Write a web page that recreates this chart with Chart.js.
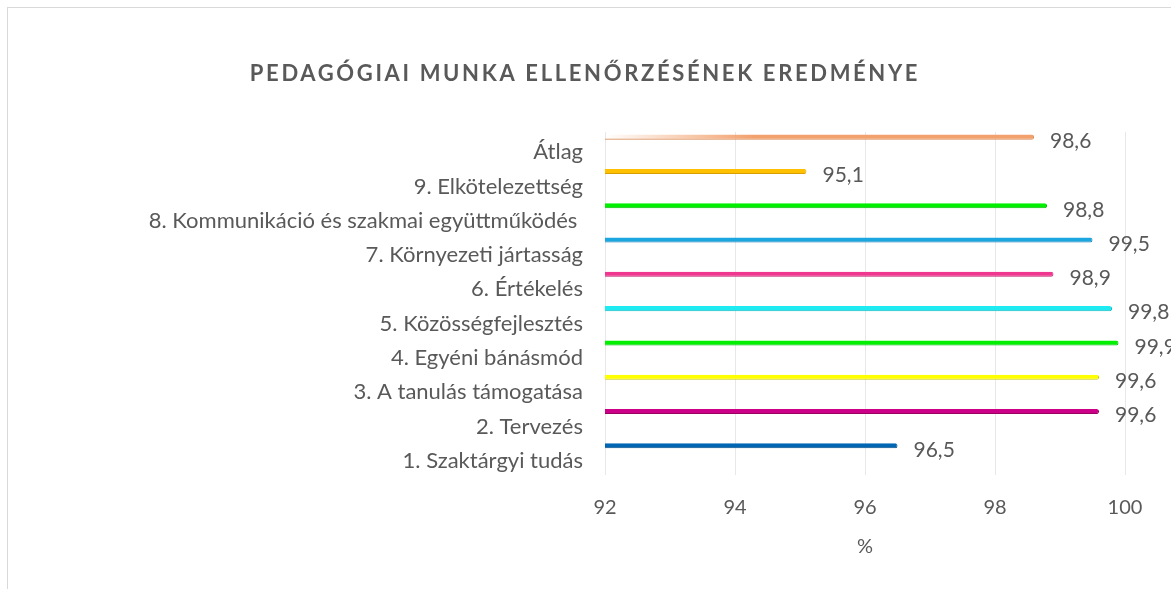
<!DOCTYPE html>
<html><head><meta charset="utf-8">
<script src="https://cdn.jsdelivr.net/npm/chart.js@4"></script>
<style>
html,body{margin:0;padding:0;background:#fff;overflow:hidden;width:1171px;height:589px;}
#frame{position:absolute;left:7px;top:7px;width:1300px;height:700px;border:1px solid #d9d9d9;box-sizing:border-box;}
#wrap{position:absolute;left:0;top:0;width:1171px;height:589px;}
</style></head><body>
<div id="frame"></div>
<div id="wrap"><canvas id="c" width="1171" height="589"></canvas></div>
<script>
const chartTitle = 'PEDAGÓGIAI MUNKA ELLENŐRZÉSÉNEK EREDMÉNYE';
const categories = [
  'Átlag',
  '9. Elkötelezettség',
  '8. Kommunikáció és szakmai együttműködés ',
  '7. Környezeti jártasság',
  '6. Értékelés',
  '5. Közösségfejlesztés',
  '4. Egyéni bánásmód',
  '3. A tanulás támogatása',
  '2. Tervezés',
  '1. Szaktárgyi tudás'
];
const values = [98.6, 95.1, 98.8, 99.5, 98.9, 99.8, 99.9, 99.6, 99.6, 96.5];
const barColors = ['#F2A06C', '#FFC000', '#00EE00', '#1CA6E0', '#F0378F', '#1EEAF2', '#00F000', '#FFFF00', '#CC0088', '#0066B3'];
const edgeColors = ['#D98A55', '#D9A000', '#00B800', '#1480B0', '#C02070', '#10B8C0', '#00B800', '#C8C800', '#99005F', '#004C88'];
const xMin = 92, xMax = 100, xStep = 2;
const axisTitle = '%';

const FONT = 'Lato';
const TXT = '#595959';
const fmt = v => v.toFixed(1).replace('.', ',');

const titlePlugin = {
  id: 'customTitle',
  afterDraw(chart) {
    const ctx = chart.ctx;
    ctx.save();
    ctx.font = 'bold 22px ' + FONT;
    try { ctx.letterSpacing = '2.65px'; } catch (e) {}
    ctx.fillStyle = TXT;
    ctx.textAlign = 'center';
    ctx.textBaseline = 'middle';
    ctx.fillText(chartTitle, 585, 74);
    ctx.restore();
  }
};

const labelPlugin = {
  id: 'valueLabels',
  afterDatasetsDraw(chart) {
    const ctx = chart.ctx;
    const meta = chart.getDatasetMeta(0);
    ctx.save();
    ctx.font = '21px ' + FONT;
    ctx.fillStyle = TXT;
    ctx.textAlign = 'left';
    ctx.textBaseline = 'middle';
    meta.data.forEach((el, i) => {
      ctx.fillText(fmt(values[i]), el.x + 16, el.y + 4);
    });
    ctx.restore();
  }
};

new Chart(document.getElementById('c'), {
  type: 'bar',
  data: {
    labels: categories,
    datasets: [
      {
        label: 'Eredmény',
        data: values,
        backgroundColor: (c) => {
          const i = c.dataIndex;
          if (i === 0 && c.chart.chartArea) {
            const a = c.chart.chartArea;
            const g = c.chart.ctx.createLinearGradient(a.left, 0, a.left + 150, 0);
            g.addColorStop(0, 'rgba(242,160,108,0)');
            g.addColorStop(1, barColors[0]);
            return g;
          }
          return barColors[i];
        },
        borderColor: (c) => edgeColors[c.dataIndex],
        borderWidth: {top: 0, left: 0, right: 1, bottom: 1},
        borderRadius: 2,
        borderSkipped: 'start',
        categoryPercentage: 1.4,
        barPercentage: 0.21
      },
      {
        label: '',
        data: [],
        categoryPercentage: 1.4,
        barPercentage: 0.21
      }
    ]
  },
  options: {
    indexAxis: 'y',
    responsive: false,
    animation: false,
    devicePixelRatio: 1,
    layout: { padding: { top: 132, right: 46, bottom: 0, left: 0 } },
    plugins: {
      legend: { display: false },
      tooltip: { enabled: false },
      title: { display: false }
    },
    scales: {
      x: {
        type: 'linear',
        min: xMin,
        max: xMax,
        ticks: { stepSize: xStep, color: TXT, font: { family: FONT, size: 20 }, padding: 21 },
        grid: { color: '#E8E8E8', drawTicks: false, lineWidth: 1 },
        border: { display: false },
        title: { display: true, text: axisTitle, color: TXT, font: { family: FONT, size: 20 }, padding: { top: 14, bottom: 30 } },
        afterFit: (s) => { s.height = 114; }
      },
      y: {
        type: 'category',
        grid: { display: false, drawTicks: false },
        border: { display: false },
        ticks: { color: TXT, font: { family: FONT, size: 22 }, padding: 22, autoSkip: false, labelOffset: 3 },
        afterFit: (s) => { s.width = 605; }
      }
    }
  },
  plugins: [labelPlugin, titlePlugin]
});
</script>
</body></html>
